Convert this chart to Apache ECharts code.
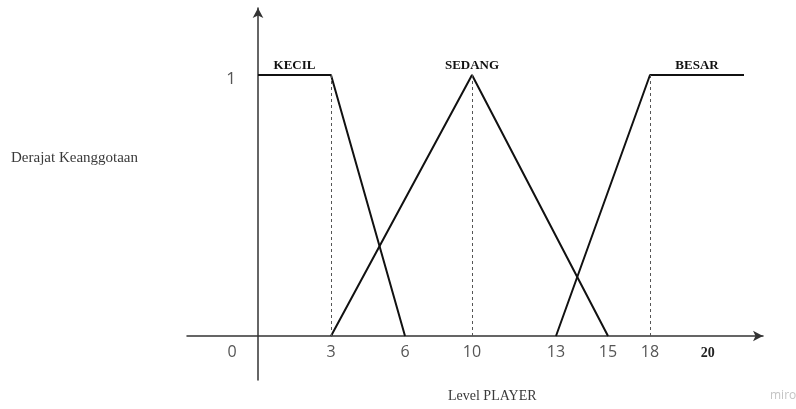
<!DOCTYPE html>
<html>
<head>
<meta charset="utf-8">
<script src="https://cdn.jsdelivr.net/npm/echarts@6/dist/echarts.min.js"></script>
<style>
html,body{margin:0;padding:0;background:#fff;}
#c{width:796px;height:409px;}
</style>
</head>
<body>
<div id="c"></div>
<script>
// ---- data ----
const tickValues = [0, 3, 6, 10, 13, 15, 18, 20];
const tickLabels = ['0', '3', '6', '10', '13', '15', '18', '20'];
const kecilX = [0, 3, 6];
const kecilY = [1, 1, 0];
const sedangX = [3, 10, 15];
const sedangY = [0, 1, 0];
const besarX = [13, 18, 21];
const besarY = [0, 1, 1];
const setNames = ['KECIL', 'SEDANG', 'BESAR'];
const peakValues = [3, 10, 18];

// ---- layout (the hand-drawn axis has uneven spacing) ----
const knotVal = [0, 3, 6, 10, 13, 15, 18, 21];
const knotPos = [0, 73, 147, 214, 298, 350, 392, 486];
function warp(v) {
  for (let i = 0; i < knotVal.length - 1; i++) {
    if (v <= knotVal[i + 1] || i === knotVal.length - 2) {
      const t = (v - knotVal[i]) / (knotVal[i + 1] - knotVal[i]);
      return knotPos[i] + t * (knotPos[i + 1] - knotPos[i]);
    }
  }
}
const toPts = (xs, ys) => xs.map((x, i) => [warp(x), ys[i]]);
const labelCenters = [
  (warp(kecilX[0]) + warp(kecilX[1])) / 2,
  warp(sedangX[1]),
  (warp(besarX[1]) + warp(besarX[2])) / 2
];
const tickPos = tickValues.map(warp);

const chart = echarts.init(document.getElementById('c'), null, {renderer: 'canvas'});

const lineStyle = {color: '#111', width: 2};
const dashStyle = {color: '#555', width: 1, type: [3, 3]};

function mkSeries(name, pts, idx) {
  return {
    name: name,
    type: 'line',
    data: pts,
    symbol: 'none',
    lineStyle: lineStyle,
    silent: true,
    z: 3,
    markPoint: {
      symbol: 'rect',
      symbolSize: 0,
      silent: true,
      label: {
        show: true,
        position: 'top',
        distance: 3,
        formatter: name,
        fontFamily: 'Liberation Serif',
        fontWeight: 'bold',
        fontSize: 13,
        color: '#111'
      },
      data: [{coord: [labelCenters[idx], 1]}]
    },
    markLine: {
      symbol: 'none',
      silent: true,
      label: {show: false},
      lineStyle: dashStyle,
      data: [[{coord: [warp(peakValues[idx]), 0]}, {coord: [warp(peakValues[idx]), 1]}]]
    }
  };
}

const option = {
  animation: false,
  backgroundColor: '#fff',
  grid: {left: 187, right: 33, top: 8, bottom: 409 - 380, containLabel: false},
  xAxis: {
    type: 'value',
    min: -71,
    max: 505,
    splitLine: {show: false},
    axisTick: {show: false},
    axisLine: {
      show: true,
      onZero: true,
      symbol: ['none', 'arrow'],
      symbolSize: [8, 10],
      lineStyle: {color: '#333', width: 1.5}
    },
    axisLabel: {
      show: true,
      customValues: tickPos,
      margin: -36,
      fontFamily: 'Open Sans',
      fontSize: 16,
      color: '#555',
      formatter: function (v) {
        let best = 0;
        for (let i = 0; i < tickPos.length; i++) {
          if (Math.abs(tickPos[i] - v) < Math.abs(tickPos[best] - v)) best = i;
        }
        const t = tickLabels[best];
        if (best === 0) return '{z|' + t + '}';
        if (best === tickLabels.length - 1) return '{b|' + t + '}';
        return t;
      },
      rich: {
        z: {fontFamily: 'Open Sans', fontSize: 16, color: '#555', padding: [0, 52, 0, 0]},
        b: {fontFamily: 'Liberation Serif', fontWeight: 'bold', fontSize: 14, color: '#222', padding: [2, 10, 0, 0]}
      }
    }
  },
  yAxis: {
    type: 'value',
    min: -44 / 261,
    max: 1 + 67 / 261,
    splitLine: {show: false},
    axisTick: {show: false},
    axisLine: {
      show: true,
      onZero: true,
      symbol: ['none', 'arrow'],
      symbolSize: [8, 10],
      lineStyle: {color: '#333', width: 1.5}
    },
    axisLabel: {
      show: true,
      customValues: [1],
      margin: -49,
      fontFamily: 'Open Sans',
      fontSize: 17,
      color: '#555',
      formatter: function () { return '{o|1}'; },
      rich: {o: {fontFamily: 'Open Sans', fontSize: 17, color: '#555', padding: [8, 0, 0, 0]}}
    }
  },
  graphic: [
    {type: 'text', left: 11, top: 151, style: {text: 'Derajat Keanggotaan', font: '15px "Liberation Serif"', fill: '#3a3a3a'}},
    {type: 'text', left: 448, top: 389, style: {text: 'Level PLAYER', font: '14px "Liberation Serif"', fill: '#3a3a3a'}},
    {type: 'text', left: 770, top: 390, style: {text: 'miro', font: '12px "Open Sans"', fill: '#c4c4c4'}}
  ],
  series: [
    mkSeries(setNames[0], toPts(kecilX, kecilY), 0),
    mkSeries(setNames[1], toPts(sedangX, sedangY), 1),
    mkSeries(setNames[2], toPts(besarX, besarY), 2)
  ]
};
chart.setOption(option);
</script>
</body>
</html>
